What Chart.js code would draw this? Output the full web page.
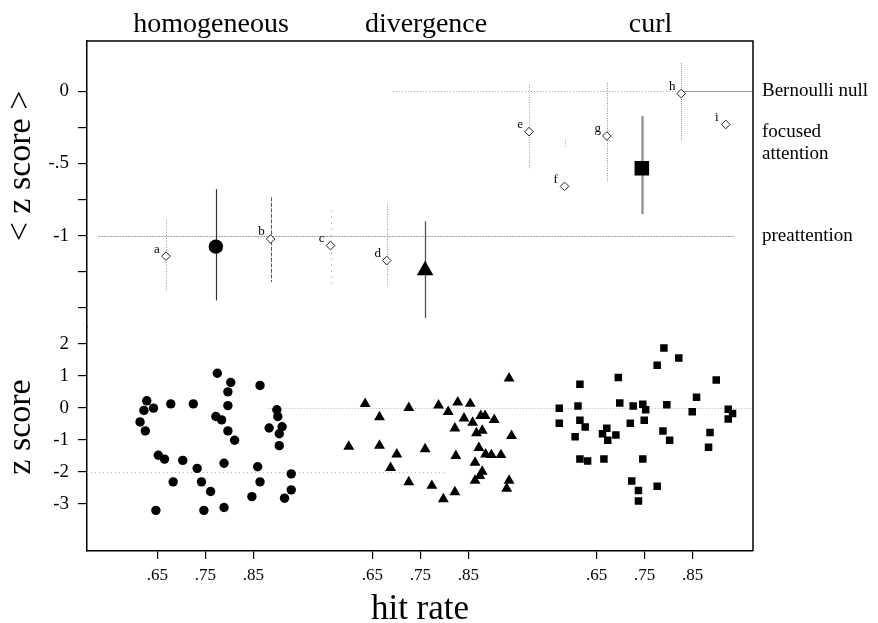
<!DOCTYPE html>
<html><head><meta charset="utf-8">
<script src="https://cdn.jsdelivr.net/npm/chart.js@4"></script>
<style>html,body{margin:0;padding:0;background:#fff}#wrap{width:878px;height:623px;position:relative}</style>
</head><body><div id="wrap"><canvas id="c"></canvas></div>
<script>
// ---------- data ----------
const groups = ['homogeneous', 'divergence', 'curl'];
const xTickValues = [0.65, 0.75, 0.85];
const xTickLabels = ['.65', '.75', '.85'];
const topTickValues = [0, -0.25, -0.5, -0.75, -1, -1.25, -1.5];
const topTickLabels = ['0', '', '-.5', '', '-1', '', ''];
const botTickValues = [2, 1, 0, -1, -2, -3];
const botTickLabels = ['2', '1', '0', '-1', '-2', '-3'];

// lower panel: individual z scores against hit rate
const homoHit = [0.775,0.803,0.797,0.864,0.628,0.622,0.642,0.678,0.725,0.797,0.614,0.625,0.772,0.784,0.797,0.811,0.899,0.901,0.883,0.910,0.904,0.904,0.652,0.665,0.703,0.733,0.789,0.859,0.929,0.683,0.742,0.864,0.761,0.847,0.929,0.915,0.647,0.747,0.789];
const homoZ   = [1.08,0.79,0.50,0.70,0.22,-0.08,-0.01,0.125,0.125,0.07,-0.44,-0.72,-0.27,-0.375,-0.72,-1.01,-0.06,-0.27,-0.63,-0.59,-0.81,-1.18,-1.48,-1.60,-1.64,-1.89,-1.73,-1.84,-2.06,-2.31,-2.31,-2.31,-2.61,-2.77,-2.56,-2.82,-3.20,-3.20,-3.11];
const divHit = [0.635,0.665,0.726,0.788,0.828,0.854,0.935,0.808,0.841,0.859,0.876,0.885,0.904,0.822,0.867,0.879,0.940,0.601,0.665,0.701,0.760,0.824,0.872,0.886,0.898,0.918,0.688,0.864,0.879,0.874,0.864,0.935,0.726,0.774,0.822,0.798,0.930];
const divZ   = [0.125,-0.29,0.0,0.08,0.17,0.13,0.92,-0.125,-0.33,-0.46,-0.25,-0.25,-0.375,-0.64,-0.79,-0.71,-0.875,-1.21,-1.18,-1.45,-1.29,-1.5,-1.25,-1.45,-1.47,-1.47,-1.875,-1.71,-1.99,-2.125,-2.27,-2.27,-2.32,-2.43,-2.63,-2.85,-2.52];
const curlHit = [0.790,0.821,0.776,0.615,0.695,0.899,0.858,0.572,0.611,0.698,0.726,0.746,0.752,0.796,0.849,0.924,0.933,0.924,0.572,0.615,0.626,0.605,0.671,0.662,0.673,0.690,0.720,0.749,0.788,0.802,0.886,0.883,0.615,0.631,0.665,0.746,0.723,0.737,0.737,0.776];
const curlZ   = [1.87,1.56,1.33,0.74,0.95,0.87,0.33,-0.01,0.06,0.15,0.06,0.11,-0.06,0.10,-0.125,-0.04,-0.18,-0.35,-0.48,-0.385,-0.60,-0.90,-0.64,-0.81,-1.01,-0.85,-0.48,-0.385,-0.72,-1.01,-0.77,-1.23,-1.60,-1.66,-1.60,-1.60,-2.28,-2.58,-2.91,-2.45];

// upper panel: group means of z score with error bars
const meanHit = [0.772, 0.760, 0.744];
const meanZ   = [-1.076, -1.241, -0.533];
const meanLo  = [-1.448, -1.570, -0.850];
const meanHi  = [-0.678, -0.900, -0.172];

// upper panel: conditions a-i
const condNames = ['a','b','c','d','e','f','g','h','i'];
const condGroup = [0,0,1,1,2,2,2,2,2];
const condHit = [0.668,0.886,0.563,0.680,0.509,0.583,0.671,0.826,0.919];
const condZ   = [-1.142,-1.023,-1.069,-1.172,-0.280,-0.659,-0.310,-0.016,-0.230];
const condLo  = [-1.390,-1.321,-1.363,-1.345,-0.540,-0.382,-0.632,-0.338,null];
const condHi  = [-0.890,-0.735,-0.828,-0.781,0.046,-0.334,0.058,0.196,null];

// reference levels on the upper panel
const refNames  = ['Bernoulli null', 'focused\nattention', 'preattention'];
const refValues = [0, -0.36, -1];

// ---------- layout / style ----------
const SERIF = '"Liberation Serif", "Times New Roman", serif';
const groupOffset = [0, 0.4479, 0.9154];
const X_MIN = 0.5035, X_MAX = 0.5035 + 666 / 480;
const pos = (g, h) => groupOffset[g] + h;
const toPts = (g, hs, zs) => hs.map((h, i) => ({x: pos(g, h), y: zs[i]}));

const meanStyles = ['circle', 'triangle', 'rect'];
const meanRadius = [7.2, 9.6, 10.3];
const meanBar = [{c:'#333', w:1.2}, {c:'#555', w:1.3}, {c:'#8a8a8a', w:2.2}];
const condBar = [
  {c:'#888', d:[1,2]}, {c:'#555', d:[4,1.5]}, {c:'#999', d:[1,5]}, {c:'#999', d:[1,1.5]},
  {c:'#999', d:[1,1.5]}, {c:'#999', d:[1,2]}, {c:'#888', d:[1,1.5]}, {c:'#999', d:[1,1]}, null
];

const datasets = [
  {data: toPts(0, homoHit, homoZ), yAxisID:'yBot', pointStyle:'circle', pointRadius:4.7, backgroundColor:'#000', borderWidth:0},
  {data: toPts(1, divHit, divZ), yAxisID:'yBot', pointStyle:'triangle', pointRadius:6.3, backgroundColor:'#000', borderWidth:0},
  {data: toPts(2, curlHit, curlZ), yAxisID:'yBot', pointStyle:'rect', pointRadius:5.3, backgroundColor:'#000', borderWidth:0},
  {data: condHit.map((h, i) => ({x: pos(condGroup[i], h), y: condZ[i]})), yAxisID:'yTop', pointStyle:'rectRot', pointRadius:4.3, backgroundColor:'#fff', borderColor:'#222', borderWidth:1}
];
meanHit.forEach((h, g) => datasets.push({
  data: [{x: pos(g, h), y: meanZ[g]}], yAxisID:'yTop', pointStyle: meanStyles[g], pointRadius: meanRadius[g], backgroundColor:'#000', borderWidth:0
}));

const decor = {
  id: 'decor',
  beforeDatasetsDraw(chart) {
    const {ctx, chartArea: ca} = chart;
    const xs = chart.scales.x, yt = chart.scales.yTop, yb = chart.scales.yBot;
    const hline = (sc, v, x0, x1, color, dash, w) => {
      const y = Math.round(sc.getPixelForValue(v)) + 0.5;
      ctx.save(); ctx.strokeStyle = color; ctx.lineWidth = w || 1; ctx.setLineDash(dash);
      ctx.beginPath(); ctx.moveTo(x0, y); ctx.lineTo(x1, y); ctx.stroke(); ctx.restore();
    };
    // reference lines
    hline(yt, refValues[2], xs.getPixelForValue(0.527), xs.getPixelForValue(1.853), '#9a9a9a', [2,1], 1);
    hline(yt, refValues[0], xs.getPixelForValue(1.141), xs.getPixelForValue(1.745), '#aaa', [1,2], 1);
    hline(yt, refValues[0], xs.getPixelForValue(1.745), ca.right, '#999', [], 1);
    hline(yb, 0, xs.getPixelForValue(0.88), ca.right, '#b5b5b5', [1,2], 1);
    hline(yb, -2, ca.left, xs.getPixelForValue(1.25), '#b5b5b5', [1,3], 1);
    // error bars
    const vbar = (x, lo, hi, color, w, dash) => {
      const px = Math.round(xs.getPixelForValue(x)) + 0.5;
      ctx.save(); ctx.strokeStyle = color; ctx.lineWidth = w; ctx.setLineDash(dash);
      ctx.beginPath(); ctx.moveTo(px, yt.getPixelForValue(hi)); ctx.lineTo(px, yt.getPixelForValue(lo)); ctx.stroke(); ctx.restore();
    };
    condHit.forEach((h, i) => {
      if (condLo[i] === null) return;
      const s = condBar[i];
      vbar(pos(condGroup[i], h), condLo[i], condHi[i], s.c, 1, s.d);
    });
    meanHit.forEach((h, g) => vbar(pos(g, h), meanLo[g], meanHi[g], meanBar[g].c, meanBar[g].w, []));
  },
  afterDraw(chart) {
    const {ctx, chartArea: ca} = chart;
    const xs = chart.scales.x, yt = chart.scales.yTop;
    ctx.save();
    // frame top & right
    ctx.strokeStyle = '#000'; ctx.lineWidth = 1.5;
    ctx.beginPath(); ctx.moveTo(ca.left, ca.top); ctx.lineTo(ca.right, ca.top); ctx.lineTo(ca.right, ca.bottom); ctx.stroke();
    ctx.fillStyle = '#000';
    // group titles
    ctx.font = '28px ' + SERIF; ctx.textAlign = 'center'; ctx.textBaseline = 'alphabetic';
    groups.forEach((g, i) => ctx.fillText(g, xs.getPixelForValue(pos(i, 0.762)), 32));
    // x title
    ctx.font = '35px ' + SERIF;
    ctx.fillText('hit rate', 420, 619);
    // y titles
    ctx.font = '34px ' + SERIF;
    ctx.save(); ctx.translate(30, 166); ctx.rotate(-Math.PI / 2); ctx.fillText('< z score >', 0, 0); ctx.restore();
    ctx.save(); ctx.translate(30, 427); ctx.rotate(-Math.PI / 2); ctx.fillText('z score', 0, 0); ctx.restore();
    // right labels
    ctx.font = '19px ' + SERIF; ctx.textAlign = 'left'; ctx.textBaseline = 'middle';
    refNames.forEach((t, i) => {
      const lines = t.split('\n');
      const y0 = yt.getPixelForValue(refValues[i]) - (lines.length - 1) * 11;
      lines.forEach((l, k) => ctx.fillText(l, 762, y0 + k * 22));
    });
    // condition letters
    ctx.font = '13px ' + SERIF; ctx.textAlign = 'center'; ctx.textBaseline = 'middle';
    const meta = chart.getDatasetMeta(3);
    meta.data.forEach((pt, i) => ctx.fillText(condNames[i], pt.x - 9, pt.y - 7));
    ctx.restore();
  }
};

const yCommon = (ticksV, ticksL) => ({
  type: 'linear', position: 'left', stack: 'v', offset: false,
  afterBuildTicks: s => { s.ticks = ticksV.map(v => ({value: v})); },
  afterFit: s => { s.width = 87; },
  ticks: {autoSkip: false, color: '#000', font: {family: SERIF, size: 19}, padding: 9,
          callback: (v, i) => ticksL[i]},
  grid: {display: true, drawOnChartArea: false, drawTicks: true, tickLength: 9, color: '#000', lineWidth: 1.2},
  border: {display: true, color: '#000', width: 1.5}
});

new Chart(document.getElementById('c'), {
  type: 'scatter',
  data: {datasets},
  plugins: [decor],
  options: {
    responsive: true, maintainAspectRatio: false, animation: false,
    layout: {padding: {top: 41, right: 125, bottom: 0, left: 0}},
    plugins: {legend: {display: false}, tooltip: {enabled: false}},
    scales: {
      x: {
        type: 'linear', position: 'bottom', min: X_MIN, max: X_MAX,
        afterBuildTicks: s => { s.ticks = groupOffset.flatMap(o => xTickValues.map(v => ({value: o + v}))); },
        afterFit: s => { s.height = 72; },
        ticks: {autoSkip: false, maxRotation: 0, color: '#000', font: {family: SERIF, size: 17}, padding: 6,
                callback: (v, i) => xTickLabels[i % xTickLabels.length]},
        grid: {display: true, drawOnChartArea: false, drawTicks: true, tickLength: 8, color: '#000', lineWidth: 1.2},
        border: {display: true, color: '#000', width: 1.5}
      },
      yBot: Object.assign(yCommon(botTickValues, botTickLabels), {stackWeight: 224, min: -4.469, max: 2.531}),
      yTop: Object.assign(yCommon(topTickValues, topTickLabels), {stackWeight: 285.5, min: -1.631, max: 0.348})
    }
  }
});
</script></body></html>
